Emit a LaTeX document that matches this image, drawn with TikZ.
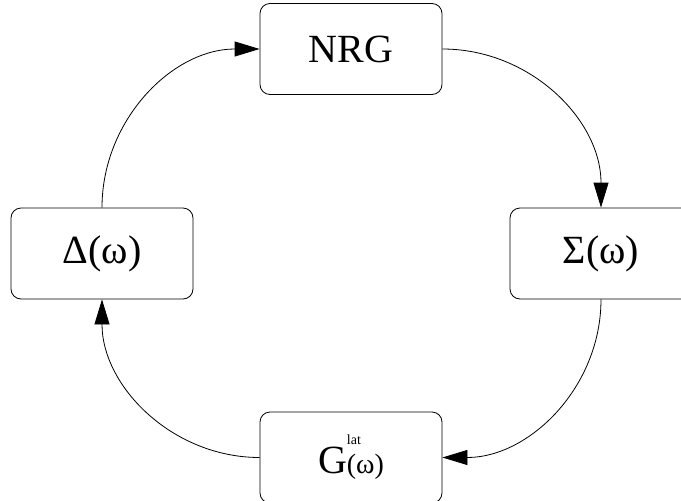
\documentclass[tikz,border=0pt]{standalone}
\usepackage{fontspec}
\setmainfont{Liberation Serif}
\usetikzlibrary{arrows.meta}
\tikzset{
  box/.style={draw=black, line width=0.8pt, rounded corners=10pt, minimum width=182pt, minimum height=91pt, inner sep=0pt, font=\fontsize{40}{44}\selectfont},
  conn/.style={line width=0.8pt, -{Triangle[length=25pt,width=15pt]}}
}
\begin{document}
\begin{tikzpicture}[x=1pt,y=-1pt]
\useasboundingbox (0,0) rectangle (681,501);
\node[box] (nrg) at (351,49) {NRG};
\node[box] (sig) at (601,253.5) {Σ(ω)};
\node[box] (del) at (102,253.5) {Δ(ω)};
\node[box] (glat) at (351,457.5) {G\makebox[0pt][l]{\raisebox{29pt}{\fontsize{14}{14}\selectfont lat}}{\fontsize{28}{30}\selectfont (ω)}};
\draw[conn] (del.north) to[out=90,in=180] (nrg.west);
\draw[conn] (nrg.east) to[out=0,in=90] (sig.north);
\draw[conn] (sig.south) to[out=-90,in=0] (glat.east);
\draw[conn] (glat.west) to[out=180,in=-90] (del.south);
\end{tikzpicture}
\end{document}
